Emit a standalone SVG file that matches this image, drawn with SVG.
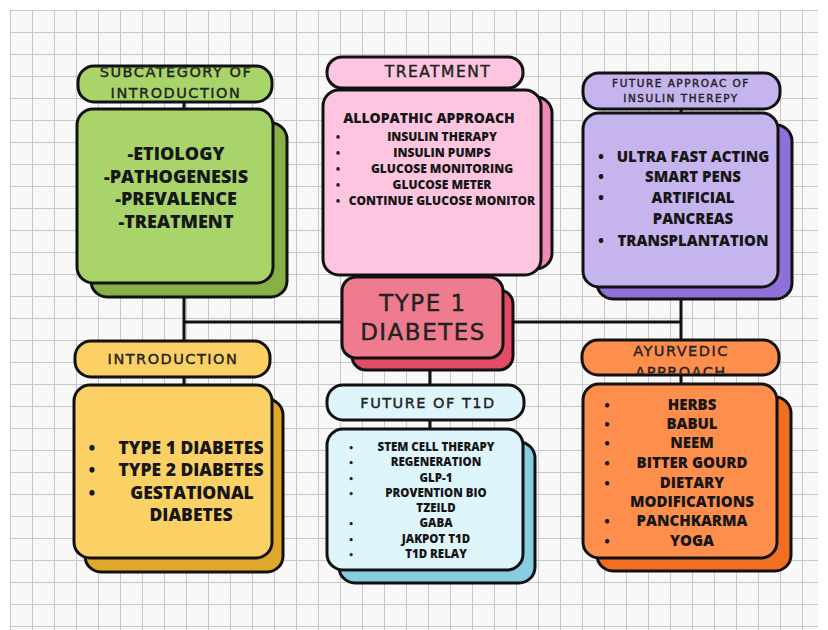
<svg xmlns="http://www.w3.org/2000/svg" width="828" height="630" viewBox="0 0 828 630">
<defs>
<pattern id="grid" x="10" y="10" width="22" height="22" patternUnits="userSpaceOnUse">
<rect width="22" height="22" fill="#f8f8f8"/>
<path d="M0 0.5H22M0.5 0V22" fill="none" stroke="#c8c8c8" stroke-width="1"/>
</pattern>
<clipPath id="cpGreenH"><rect x="79.5" y="67.5" width="191" height="33" rx="15"/></clipPath>
<clipPath id="cpOrangeH"><rect x="583.5" y="341.5" width="194" height="32" rx="15"/></clipPath>
<style>
.box{stroke:#111;stroke-width:3;}
.hdr{font-family:"DejaVu Sans",sans-serif;fill:#222;stroke:#222;stroke-width:0.4;text-anchor:middle;letter-spacing:1.5px;}
.bd{font-family:"Open Sans","Noto Sans",sans-serif;font-weight:800;fill:#161616;text-anchor:middle;}
.bl{font-family:"Open Sans","Noto Sans",sans-serif;font-weight:800;fill:#161616;text-anchor:middle;}
.con{stroke:#111;stroke-width:3;fill:none;}
</style>
</defs>
<rect width="828" height="630" fill="#ffffff"/>
<rect x="10" y="10" width="808" height="620" fill="url(#grid)"/>

<g id="connectors">
<path class="con" d="M184 100V112M184 295V343M184 375V388"/>
<path class="con" d="M184 322H344M511 322H681"/>
<path class="con" d="M681 107V116M681 297V342M681 373V386"/>
<path class="con" d="M430 368V387M430 418V431"/>
</g>

<g id="subcategory-header">
<rect class="box" x="78" y="66" width="194" height="36" rx="16" fill="#a9d46a"/>
<g clip-path="url(#cpGreenH)">
<text class="hdr" x="176" y="77" font-size="14.5">SUBCATEGORY OF</text>
<text class="hdr" x="176" y="97.5" font-size="14.5">INTRODUCTION</text>
</g>
</g>
<g id="subcategory-body">
<rect class="box" x="91" y="123" width="196" height="174" rx="16" fill="#86b146"/>
<rect class="box" x="77" y="109" width="196" height="174" rx="16" fill="#a9d46a"/>
<text class="bd" x="176" y="159.5" font-size="18">-ETIOLOGY</text>
<text class="bd" x="176" y="182.5" font-size="18">-PATHOGENESIS</text>
<text class="bd" x="176" y="205" font-size="18">-PREVALENCE</text>
<text class="bd" x="176" y="227.5" font-size="18">-TREATMENT</text>
</g>

<g id="treatment-header">
<rect class="box" x="327" y="57" width="196" height="31" rx="15" fill="#fdc5df"/>
<text class="hdr" x="438" y="77" font-size="15.5">TREATMENT</text>
</g>
<g id="treatment-body">
<rect class="box" x="336" y="97" width="216" height="172" rx="16" fill="#f088b8"/>
<rect class="box" x="323" y="90" width="218" height="185" rx="16" fill="#fdc5df"/>
<text class="bd" x="429" y="123" font-size="14" font-weight="700">ALLOPATHIC APPROACH</text>
<text class="bl" x="338" y="141" font-size="10">•</text><text class="bd" x="442" y="141" font-size="12">INSULIN THERAPY</text>
<text class="bl" x="338" y="157" font-size="10">•</text><text class="bd" x="442" y="157" font-size="12">INSULIN PUMPS</text>
<text class="bl" x="338" y="173" font-size="10">•</text><text class="bd" x="442" y="173" font-size="12">GLUCOSE MONITORING</text>
<text class="bl" x="338" y="189" font-size="10">•</text><text class="bd" x="442" y="189" font-size="12">GLUCOSE METER</text>
<text class="bl" x="338" y="205" font-size="10">•</text><text class="bd" x="442" y="205" font-size="12">CONTINUE GLUCOSE MONITOR</text>
</g>

<g id="future-insulin-header">
<rect class="box" x="583" y="73" width="197" height="36" rx="16" fill="#c6b4ef"/>
<text class="hdr" x="681" y="87" font-size="10.5" stroke-width="0.3">FUTURE APPROAC OF</text>
<text class="hdr" x="681" y="102" font-size="10.5" stroke-width="0.3">INSULIN THEREPY</text>
</g>
<g id="future-insulin-body">
<rect class="box" x="597" y="125" width="195" height="174" rx="16" fill="#8e70d6"/>
<rect class="box" x="583" y="113" width="195" height="174" rx="16" fill="#c6b4ef"/>
<text class="bl" x="601" y="162" font-size="14">•</text><text class="bd" x="693" y="162" font-size="15">ULTRA FAST ACTING</text>
<text class="bl" x="601" y="182" font-size="14">•</text><text class="bd" x="693" y="182" font-size="15">SMART PENS</text>
<text class="bl" x="601" y="203" font-size="14">•</text><text class="bd" x="693" y="203" font-size="15">ARTIFICIAL</text>
<text class="bd" x="693" y="224" font-size="15">PANCREAS</text>
<text class="bl" x="601" y="246" font-size="14">•</text><text class="bd" x="693" y="246" font-size="15">TRANSPLANTATION</text>
</g>

<g id="type1-diabetes">
<rect class="box" x="352" y="290" width="161" height="80" rx="14" fill="#e34b66"/>
<rect class="box" x="342" y="277" width="161" height="81" rx="14" fill="#ee7b8e"/>
<text class="hdr" x="423" y="311" font-size="23" letter-spacing="2" stroke-width="0.6">TYPE 1</text>
<text class="hdr" x="423" y="340" font-size="23" letter-spacing="2" stroke-width="0.6">DIABETES</text>
</g>

<g id="introduction-header">
<rect class="box" x="75" y="341" width="195" height="36" rx="16" fill="#fbd166"/>
<text class="hdr" x="173" y="364" font-size="14.5">INTRODUCTION</text>
</g>
<g id="introduction-body">
<rect class="box" x="85" y="399" width="198" height="173" rx="16" fill="#e0a82b"/>
<rect class="box" x="74" y="385" width="198" height="173" rx="16" fill="#fbd166"/>
<text class="bl" x="92" y="454" font-size="16">•</text><text class="bd" x="191" y="454" font-size="17.5">TYPE 1 DIABETES</text>
<text class="bl" x="92" y="476" font-size="16">•</text><text class="bd" x="191" y="476" font-size="17.5">TYPE 2 DIABETES</text>
<text class="bl" x="92" y="499" font-size="16">•</text><text class="bd" x="192" y="499" font-size="17.5">GESTATIONAL</text>
<text class="bd" x="191" y="521" font-size="17.5">DIABETES</text>
</g>

<g id="future-t1d-header">
<rect class="box" x="327" y="385" width="197" height="35" rx="16" fill="#dff5fc"/>
<text class="hdr" x="428" y="408" font-size="14.5" letter-spacing="2">FUTURE OF T1D</text>
</g>
<g id="future-t1d-body">
<rect class="box" x="339" y="442" width="196" height="141" rx="16" fill="#87cde0"/>
<rect class="box" x="327" y="429" width="196" height="141" rx="16" fill="#dff5fc"/>
<text class="bl" x="351" y="451" font-size="9.5">•</text><text class="bd" x="436" y="451" font-size="11.5">STEM CELL THERAPY</text>
<text class="bl" x="351" y="466" font-size="9.5">•</text><text class="bd" x="436" y="466" font-size="11.5">REGENERATION</text>
<text class="bl" x="351" y="482" font-size="9.5">•</text><text class="bd" x="436" y="482" font-size="11.5">GLP-1</text>
<text class="bl" x="351" y="497" font-size="9.5">•</text><text class="bd" x="436" y="497" font-size="11.5">PROVENTION BIO</text>
<text class="bd" x="436" y="512" font-size="11.5">TZEILD</text>
<text class="bl" x="351" y="527" font-size="9.5">•</text><text class="bd" x="436" y="527" font-size="11.5">GABA</text>
<text class="bl" x="351" y="543" font-size="9.5">•</text><text class="bd" x="436" y="543" font-size="11.5">JAKPOT T1D</text>
<text class="bl" x="351" y="558" font-size="9.5">•</text><text class="bd" x="436" y="558" font-size="11.5">T1D RELAY</text>
</g>

<g id="ayurvedic-header">
<rect class="box" x="582" y="340" width="197" height="35" rx="16" fill="#fd8e4b"/>
<g clip-path="url(#cpOrangeH)">
<text class="hdr" x="681" y="356" font-size="14.5" letter-spacing="2">AYURVEDIC</text>
<text class="hdr" x="681" y="377" font-size="14.5" letter-spacing="2">APPROACH</text>
</g>
</g>
<g id="ayurvedic-body">
<rect class="box" x="597" y="397" width="194" height="174" rx="16" fill="#f26f21"/>
<rect class="box" x="583" y="384" width="194" height="174" rx="16" fill="#fd8e4b"/>
<text class="bl" x="607" y="410" font-size="13">•</text><text class="bd" x="692" y="410" font-size="15">HERBS</text>
<text class="bl" x="607" y="429" font-size="13">•</text><text class="bd" x="692" y="429" font-size="15">BABUL</text>
<text class="bl" x="607" y="448" font-size="13">•</text><text class="bd" x="692" y="448" font-size="15">NEEM</text>
<text class="bl" x="607" y="468" font-size="13">•</text><text class="bd" x="692" y="468" font-size="15">BITTER GOURD</text>
<text class="bl" x="607" y="488" font-size="13">•</text><text class="bd" x="692" y="488" font-size="15">DIETARY</text>
<text class="bd" x="692" y="507" font-size="15">MODIFICATIONS</text>
<text class="bl" x="607" y="526" font-size="13">•</text><text class="bd" x="692" y="526" font-size="15">PANCHKARMA</text>
<text class="bl" x="607" y="546" font-size="13">•</text><text class="bd" x="692" y="546" font-size="15">YOGA</text>
</g>
</svg>
